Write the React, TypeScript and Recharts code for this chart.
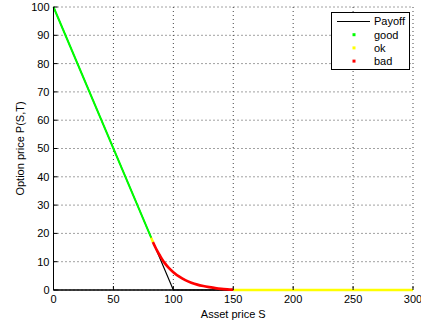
import React from "react";
import { LineChart, Line, XAxis, YAxis, CartesianGrid, Legend, ReferenceLine } from "recharts";

// Tick labels
const xTicks = [0, 50, 100, 150, 200, 250, 300];
const yTicks = [0, 10, 20, 30, 40, 50, 60, 70, 80, 90, 100];

// Payoff max(K - S, 0)
const payoffS = [0, 100, 300];
const payoffP = [100, 0, 0];

// "good" points (on the payoff line)
const goodS = [0, 81.5];
const goodP = [100, 18.5];

// "ok" points
const okS1 = [81.5, 83];
const okP1 = [18.5, 16.9];
const okS2 = [150, 300];
const okP2 = [0, 0];

// "bad" points
const badS = [83, 85, 87, 89, 91, 93, 96, 100, 105, 110, 115, 120, 125, 130, 135, 140, 145, 150];
const badP = [16.9, 15.1, 13.5, 12.0, 10.6, 9.4, 7.9, 6.3, 4.7, 3.5, 2.6, 1.9, 1.4, 1.0, 0.65, 0.4, 0.25, 0.15];

const toPts = (s: number[], p: number[]) => s.map((v, i) => ({ s: v, p: p[i] }));

const FONT = "'Liberation Sans', Arial, Helvetica, sans-serif";

const XTick = (props: any) => {
  const { x, y, payload } = props;
  const m = 5;
  return (
    <g>
      <line x1={x} x2={x} y1={y - m} y2={y - m - 4} stroke="#000" strokeWidth={1} />
      <text x={x} y={y} dy="0.71em" textAnchor="middle" fontSize={11} fontFamily={FONT} fill="#000">
        {payload.value}
      </text>
    </g>
  );
};

const YTick = (props: any) => {
  const { x, y, payload } = props;
  const m = 4;
  return (
    <g>
      <line x1={x + m} x2={x + m + 4} y1={y} y2={y} stroke="#000" strokeWidth={1} />
      <text x={x} y={y} dy="0.36em" textAnchor="end" fontSize={11} fontFamily={FONT} fill="#000">
        {payload.value}
      </text>
    </g>
  );
};

const TopTick = (props: any) => {
  const { x, y } = props;
  return <line x1={x} x2={x} y1={y} y2={y + 4} stroke="#000" strokeWidth={1} />;
};
const RightTick = (props: any) => {
  const { x, y } = props;
  return <line x1={x} x2={x - 4} y1={y} y2={y} stroke="#000" strokeWidth={1} />;
};

const legendItems = [
  { name: "Payoff", color: "#000000", kind: "line" },
  { name: "good", color: "#00ff00", kind: "dot" },
  { name: "ok", color: "#ffff00", kind: "dot" },
  { name: "bad", color: "#ff0000", kind: "dot" },
];

const LegendBox = () => (
  <svg width={79} height={58} style={{ display: "block" }}>
    <rect x={0.5} y={0.5} width={78} height={57} fill="#fff" stroke="#000" strokeWidth={1} />
    {legendItems.map((it, i) => {
      const cy = 9.5 + i * 13.2;
      return (
        <g key={it.name}>
          {it.kind === "line" ? (
            <line x1={6} x2={39} y1={cy} y2={cy} stroke={it.color} strokeWidth={1} />
          ) : (
            <rect x={21.5} y={cy - 1.5} width={3} height={3} fill={it.color} />
          )}
          <text x={43} y={cy} dy="0.36em" fontSize={11} fontFamily={FONT} fill="#000">
            {it.name}
          </text>
        </g>
      );
    })}
  </svg>
);

export default function App() {
  return (
    <div style={{ position: "absolute", left: 0, top: 0, width: 421, height: 322, background: "#fff" }}>
      <LineChart width={421} height={322} margin={{ top: 7, right: 8, bottom: 0, left: 0 }}>
        <CartesianGrid stroke="#444" strokeDasharray="1 3" verticalValues={xTicks} horizontalValues={yTicks} />
        <XAxis
          dataKey="s"
          type="number"
          domain={[0, 300]}
          ticks={xTicks}
          interval={0}
          height={32}
          tickSize={0}
          tickMargin={5}
          tickLine={false}
          tick={<XTick />}
          axisLine={false}
          label={{ value: "Asset price S", position: "insideBottom", offset: 4, fontSize: 11, fontFamily: FONT, fill: "#000" }}
        />
        <XAxis
          xAxisId="top"
          orientation="top"
          dataKey="s"
          type="number"
          domain={[0, 300]}
          ticks={xTicks}
          height={0}
          tickSize={0}
          tickMargin={0}
          tickLine={false}
          tick={<TopTick />}
          axisLine={{ stroke: "#000" }}
        />
        <YAxis
          dataKey="p"
          type="number"
          domain={[0, 100]}
          ticks={yTicks}
          interval={0}
          width={53.5}
          tickSize={0}
          tickMargin={4}
          tickLine={false}
          tick={<YTick />}
          axisLine={{ stroke: "#000" }}
          label={{ value: "Option price P(S,T)", angle: -90, position: "insideLeft", offset: 20, fontSize: 11, fontFamily: FONT, fill: "#000", style: { textAnchor: "middle" } }}
        />
        <YAxis
          yAxisId="right"
          orientation="right"
          dataKey="p"
          type="number"
          domain={[0, 100]}
          ticks={yTicks}
          width={0}
          tickSize={0}
          tickMargin={0}
          tickLine={false}
          tick={<RightTick />}
          axisLine={{ stroke: "#000" }}
        />
        <ReferenceLine segment={[{ x: 0, y: 0 }, { x: 150, y: 0 }]} stroke="#000" strokeWidth={1.5} />
        <Line data={toPts(payoffS, payoffP)} dataKey="p" stroke="#000" strokeWidth={1.2} dot={false} isAnimationActive={false} legendType="none" />
        <Line data={toPts(goodS, goodP)} dataKey="p" stroke="#00ff00" strokeWidth={2} dot={false} isAnimationActive={false} legendType="none" />
        <Line data={toPts(okS1, okP1)} dataKey="p" stroke="#ffff00" strokeWidth={2.5} dot={false} isAnimationActive={false} legendType="none" />
        <Line data={toPts(okS2, okP2)} dataKey="p" stroke="#ffff00" strokeWidth={2.5} dot={false} isAnimationActive={false} legendType="none" />
        <Line data={toPts(badS, badP)} type="monotone" dataKey="p" stroke="#ff0000" strokeWidth={2.7} dot={false} isAnimationActive={false} legendType="none" />
        <Legend
          layout="horizontal"
          verticalAlign="middle"
          align="center"
          content={<LegendBox />}
          wrapperStyle={{ position: "absolute", left: 331, top: 12, width: 79, height: 58 }}
        />
      </LineChart>
    </div>
  );
}
